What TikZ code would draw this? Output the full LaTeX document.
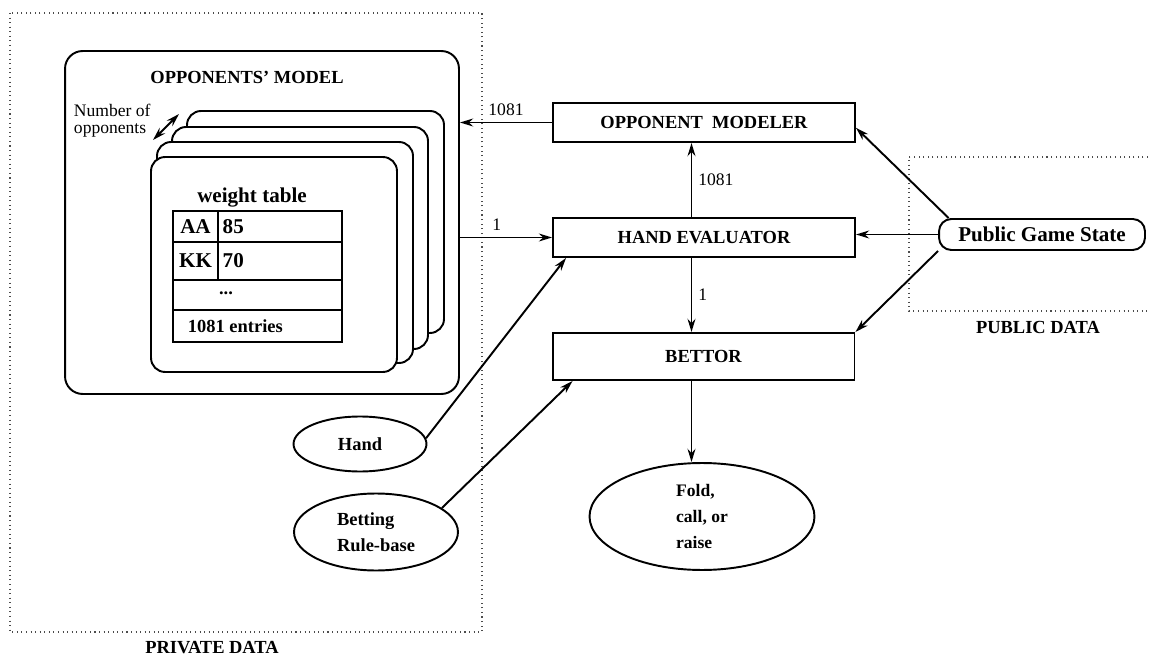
\documentclass[tikz,border=0pt]{standalone}
\usepackage{fontspec}
\setmainfont{Liberation Serif}
\usepackage{tikz}
\usetikzlibrary{shapes.geometric,arrows.meta,calc}

\tikzset{
  box/.style={draw, rectangle, line width=1.1pt, minimum width=6.04cm, minimum height=0.78cm,
    font=\fontsize{10.5}{12}\selectfont\bfseries},
  oval/.style={draw, ellipse, line width=1.1pt, inner sep=0pt, align=left,
    font=\fontsize{10.5}{14.5}\selectfont\bfseries},
  card/.style={draw, fill=white, line width=1.1pt, rounded corners=8pt},
  dotbox/.style={dotted, line width=0.6pt, black!70},
  lbl/.style={font=\fontsize{10}{12}\selectfont},
  bold/.style={font=\fontsize{10.5}{12}\selectfont\bfseries},
}

\begin{document}
\begin{tikzpicture}[x=0.02cm, y=-0.02cm, >={Stealth[length=7.5pt,width=4.5pt]}, line width=1.1pt]
				\useasboundingbox (0,0) rectangle (1152,658);
				
				% Data areas
				\draw[dotbox] (10,13) rectangle (482,632);
				\node (privlbl) [bold] at (212,648) {PRIVATE DATA};
				\draw[dotbox] (1148,157) -- (909,157) -- (909,311) -- (1148,311);
				\node (publbl) [bold] at (1038,327) {PUBLIC DATA};
				
				% Opponents' model
				\node (model) [draw, rounded corners=10pt, minimum width=7.88cm, minimum height=6.86cm] at (262,222.5) {};
				\node (mtitle) [bold] at (247,77) {OPPONENTS' MODEL};
				\foreach \l/\t/\r/\b in {187/111/444/333, 172/127/428/349, 157/142/413/363}
					\draw[card] (\l,\t) rectangle (\r,\b);
				\node (card) [card, minimum width=4.92cm, minimum height=4.3cm] at (274,264.5) {};
				\node (nopp) [align=left, inner sep=0pt, anchor=west, font=\fontsize{10}{9.6}\selectfont] at (73,121) {Number of\\opponents};
				\coordinate (n1) at (153,140);
				\coordinate (n2) at (179,114);
				\draw[<->] (n1) -- (n2);
				
				% Weight table
				\node (wt) [font=\fontsize{12}{14}\selectfont\bfseries] at (252,198) {weight table};
				\draw (173,211) rectangle (342,342);
				\draw (173,242) -- (342,242);
				\draw (173,280) -- (342,280);
				\draw (173,310) -- (342,310);
				\draw (218,211) -- (218,280);
				\node (aa) [font=\fontsize{12}{14}\selectfont\bfseries] at (195.5,227) {AA};
				\node (v85) [font=\fontsize{12}{14}\selectfont\bfseries, anchor=west, inner sep=1pt] at (220,227) {85};
				\node (kk) [font=\fontsize{12}{14}\selectfont\bfseries] at (195.5,261) {KK};
				\node (v70) [font=\fontsize{12}{14}\selectfont\bfseries, anchor=west, inner sep=1pt] at (220,261) {70};
				\node (dots) [bold] at (226,293) {...};
				\node (entries) [bold, anchor=west, inner sep=0pt] at (187,326) {1081 entries};
				
				% Modules
				\node (om) [box] at (704,122.5) {OPPONENT\ \ MODELER};
				\node (he) [box] at (704,237.5) {HAND EVALUATOR};
				\node (bet) [box, minimum height=0.94cm] at (703.5,356.5) {BETTOR};
				\node (pgs) [draw, rounded corners=7pt, minimum width=4.12cm, minimum height=0.62cm,
					font=\fontsize{12}{14}\selectfont\bfseries] at (1042,234.5) {Public Game State};
				\node (hand) [oval, minimum width=2.66cm, minimum height=1.1cm] at (360,444) {Hand};
				\node (rules) [oval, minimum width=3.28cm, minimum height=1.54cm] at (376,532) {Betting\\Rule-base};
				\node (act) [oval, minimum width=4.5cm, minimum height=2.14cm, font=\fontsize{10}{14.8}\selectfont\bfseries] at (702,516.5) {Fold,\\call, or\\raise};
				\coordinate (vx) at (691.5,0);
				
				% Arrows
				\draw[->] (om.west) -- (om.west -| model.east) node[lbl, midway, above] {1081};
				\draw[->] (he.west -| model.east) -- (he.west) node[lbl, pos=0.4, above] {1};
				\draw[->] (he.north -| vx) -- (om.south -| vx) node[lbl, midway, right] {1081};
				\draw[->] (he.south -| vx) -- (bet.north -| vx) node[lbl, midway, right] {1};
				\draw[->] (bet.south -| vx) -- (act.north -| vx);
				\draw[->] (hand.5) -- ($(he.south west)+(14,0)$);
				\draw[->] (rules.20) -- ($(bet.south west)+(21,0)$);
				\draw[->] (pgs.west) -- (pgs.west -| he.east);
				\draw[->] (pgs.170) -- (om.-2);
				\draw[->] (pgs.south west) -- (bet.north east);
				
\end{tikzpicture}
\end{document}
